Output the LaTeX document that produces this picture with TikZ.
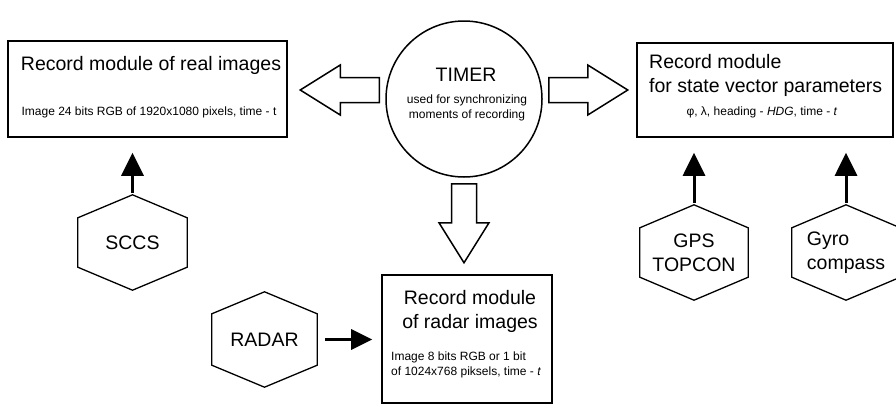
\documentclass[tikz,border=0pt]{standalone}
\usepackage{fontspec}
\setmainfont{Liberation Sans}
\usetikzlibrary{arrows.meta,calc}
\newcommand\drawhexagon[2]{\draw[line width=1.3pt,line join=miter] (#1.north) -- ([yshift=-#2]#1.north east) -- ([yshift=#2]#1.south east) -- (#1.south) -- ([yshift=#2]#1.south west) -- ([yshift=-#2]#1.north west) -- cycle;}
\tikzset{
  box/.style={draw, line width=1.6pt, inner sep=0pt},
  hexnode/.style={inner sep=0pt, minimum height=95pt},
  big/.style={font=\fontsize{19.5}{24}\selectfont, inner sep=0pt},
  small/.style={font=\fontsize{12}{15}\selectfont, inner sep=0pt},
  feed/.style={line width=3pt, -{Triangle[length=23pt,width=22pt]}},
  pics/harrow/.style={code={\draw[line width=1.5pt,line join=miter] (6,-12.5) -- (45,-12.5) -- (45,-25) -- (85,0) -- (45,25) -- (45,12.5) -- (6,12.5) -- cycle;}},
}
\begin{document}
\begin{tikzpicture}[x=1pt,y=-1pt]
\useasboundingbox (0,0) rectangle (896,405);
\clip (0,0) rectangle (896,405);

% boxes
\node[box, minimum width=279pt, minimum height=96pt] (real) at (147.5,89) {};
\node[big] (realtitle) at (151,65) {Record module of real images};
\node[small] (realinfo) at (149,112) {Image 24 bits RGB of 1920x1080 pixels, time - t};

\node[box, minimum width=256pt, minimum height=94pt] (state) at (765,90) {};
\node[big, align=left, anchor=west] (statetitle) at (649,75) {Record module\\for state vector parameters};
\node[small] (stateinfo) at (762,112) {φ, λ, heading - \textit{HDG}, time - \textit{t}};

\node[box, minimum width=170pt, minimum height=128pt] (radarbox) at (467,339) {};
\node[big, align=center] (radartitle) at (470,311) {Record module\\of radar images};
\node[small, align=left, anchor=west] (radarinfo) at (391,364.5) {Image 8 bits RGB or 1 bit\\of 1024x768 piksels, time - \textit{t}};

% timer
\node[draw, circle, line width=1.5pt, minimum size=156pt, inner sep=0pt] (timer) at (464,99) {};
\node[big] (timertitle) at (466,75) {TIMER};
\node[small, align=center] (timerinfo) at (467,107.5) {used for synchronizing\\moments of recording};

\pic[rotate=180] at ([yshift=9pt]timer.west) {harrow};
\pic at ([yshift=9pt]timer.east) {harrow};
\pic[rotate=-90] at (timer.south) {harrow};

% hexagons
\node[hexnode, big, minimum width=109pt] (sccs) at (132.5,242.5) {SCCS};
\drawhexagon{sccs}{23pt}
\node[hexnode, big, minimum width=105pt] (radar) at (264.5,339.5) {RADAR};
\drawhexagon{radar}{22pt}
\node[hexnode, big, minimum width=108pt, align=center] (gps) at (694,252.5) {GPS\\TOPCON};
\drawhexagon{gps}{23pt}
\node[hexnode, big, minimum width=108pt, align=left] (gyro) at (846,252.5) {Gyro\\compass};
\drawhexagon{gyro}{23pt}

% feed arrows
\draw[feed, shorten <=2pt, shorten >=15pt] (sccs.north) -- (sccs.north |- real.south);
\draw[feed, shorten <=2pt, shorten >=15pt] (gps.north) -- (gps.north |- state.south);
\draw[feed, shorten <=2pt, shorten >=15pt] (gyro.north) -- (gyro.north |- state.south);
\draw[line width=3pt, -{Triangle[length=21pt,width=20pt]}, shorten <=8pt, shorten >=9pt] (radar.east) -- (radar.east -| radarbox.west);
\end{tikzpicture}
\end{document}
